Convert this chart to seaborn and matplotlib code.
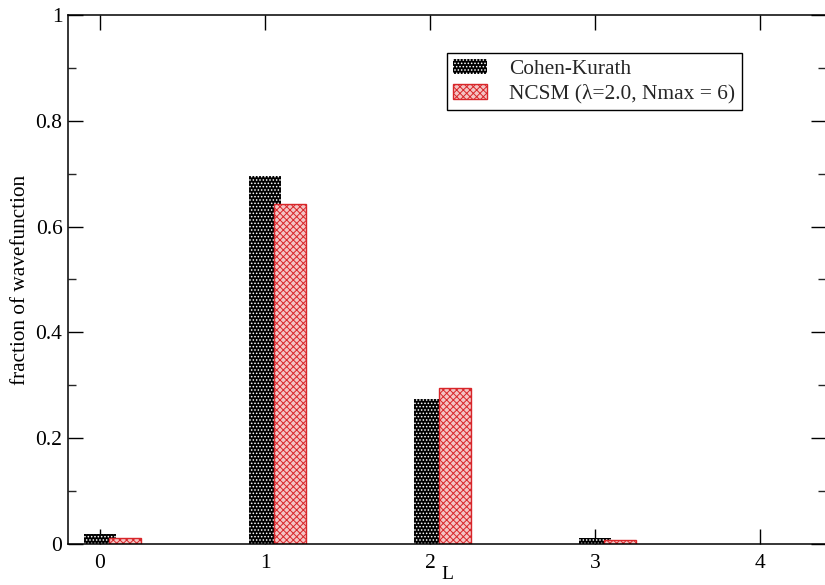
import matplotlib
matplotlib.use("Agg")
import matplotlib.pyplot as plt
from matplotlib.patches import Patch
from matplotlib.ticker import MultipleLocator
import seaborn as sns
import numpy as np

# ---- data ----
L_values = [0, 1, 2, 3]
cohen_kurath = [0.019, 0.695, 0.274, 0.012]
ncsm = [0.012, 0.643, 0.295, 0.007]
x_ticks = [0, 1, 2, 3, 4]
y_ticks = [0, 0.2, 0.4, 0.6, 0.8, 1]
y_tick_labels = ["0", "0.2", "0.4", "0.6", "0.8", "1"]
legend_labels = ["Cohen-Kurath", "NCSM (\u03bb=2.0, Nmax = 6)"]

sns.set_theme(style="ticks")
plt.rcParams["font.family"] = ["Liberation Serif", "DejaVu Serif"]
plt.rcParams["hatch.linewidth"] = 0.7

fig = plt.figure(figsize=(8.25, 5.85), dpi=100)
ax = fig.add_axes([68 / 825, 1 - 544 / 585, (826 - 68) / 825, (544 - 15) / 585])
fig.patch.set_facecolor("white")
ax.set_facecolor("white")

bar_w = 0.195
offset = 0.15

n0 = len(ax.patches)
sns.barplot(x=np.array(L_values, dtype=float), y=cohen_kurath, native_scale=True,
            width=bar_w, color="black", saturation=1, errorbar=None, ax=ax)
for p in ax.patches[n0:]:
    p.set_facecolor("black")
    p.set_edgecolor("white")
    p.set_linewidth(0)
    p.set_hatch(".....")

n1 = len(ax.patches)
sns.barplot(x=np.array(L_values, dtype=float) + offset, y=ncsm, native_scale=True,
            width=bar_w, color="#f2b3b3", saturation=1, errorbar=None, ax=ax)
for p in ax.patches[n1:]:
    p.set_facecolor("#f4c4c4")
    p.set_edgecolor("#d8262a")
    p.set_linewidth(1.0)
    p.set_hatch("xxxxx")

ax.set_xlim(-0.194, 4.4)
ax.set_ylim(0, 1)
ax.set_xticks(x_ticks)
ax.set_xticklabels([str(t) for t in x_ticks])
ax.set_yticks(y_ticks)
ax.set_yticklabels(y_tick_labels)
ax.yaxis.set_minor_locator(MultipleLocator(0.1))

for s in ax.spines.values():
    s.set_visible(True)
    s.set_linewidth(1.1)
    s.set_color("black")

ax.tick_params(axis="both", which="major", direction="in", length=10.8, width=1.0,
               top=True, right=True, labelsize=15.5, colors="black")
ax.tick_params(axis="x", which="major", pad=7)
ax.tick_params(axis="y", which="major", pad=4)
ax.tick_params(axis="y", which="minor", direction="in", length=5.8, width=1.0,
               left=True, right=True)
ax.tick_params(axis="x", which="minor", bottom=False, top=False)

ax.set_xlabel("L", fontsize=14, labelpad=-5, color="black")
ax.set_ylabel("fraction of wavefunction", fontsize=15.3, color="black")
ax.yaxis.set_label_coords(-0.05, 0.5)

handles = [
    Patch(facecolor="black", edgecolor="white", linewidth=0, hatch="....."),
    Patch(facecolor="#f4c4c4", edgecolor="#d8262a", linewidth=1.0, hatch="xxxxx"),
]
leg = ax.legend(handles, legend_labels, loc="upper left",
                bbox_to_anchor=((447 - 68) / 758, (544 - 53) / 529),
                prop={"size": 15.4}, frameon=True, fancybox=False, shadow=False,
                handlelength=1.55, handleheight=0.7, handletextpad=1.05,
                borderpad=0.3, labelspacing=0.2, borderaxespad=0)
leg.get_frame().set_edgecolor("black")
leg.get_frame().set_linewidth(1.0)
leg.get_frame().set_facecolor("white")
leg.get_frame().set_alpha(1)

fig.savefig("out.png", dpi=100, facecolor="white")
